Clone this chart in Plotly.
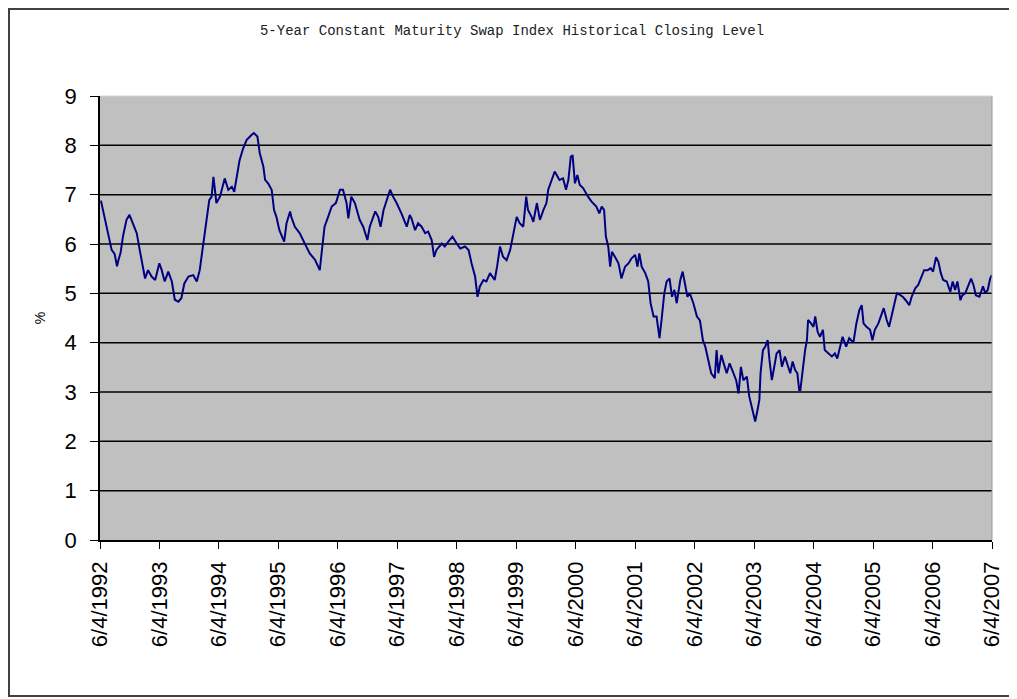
import pandas as pd
import plotly.graph_objects as go

# Decimal-year positions and closing levels (%)
years = [
    1992.44, 1992.50, 1992.56, 1992.62, 1992.67, 1992.71, 1992.74, 1992.77, 1992.81, 1992.87,
    1992.92, 1992.98, 1993.04, 1993.09, 1993.15, 1993.18, 1993.23, 1993.29, 1993.35, 1993.42,
    1993.46, 1993.51, 1993.57, 1993.63, 1993.68, 1993.74, 1993.79, 1993.84, 1993.91, 1993.99,
    1994.05, 1994.10, 1994.13, 1994.17, 1994.21, 1994.26, 1994.30, 1994.33, 1994.35, 1994.38,
    1994.44, 1994.49, 1994.52, 1994.58, 1994.64, 1994.68, 1994.72, 1994.77, 1994.83, 1994.89,
    1994.97, 1995.01, 1995.07, 1995.11, 1995.17, 1995.20, 1995.25, 1995.31, 1995.35, 1995.39,
    1995.44, 1995.48, 1995.52, 1995.56, 1995.62, 1995.64, 1995.70, 1995.78, 1995.87, 1995.95,
    1996.04, 1996.12, 1996.15, 1996.20, 1996.26, 1996.32, 1996.39, 1996.46, 1996.51, 1996.57,
    1996.60, 1996.65, 1996.71, 1996.79, 1996.85, 1996.92, 1996.96, 1997.05, 1997.10, 1997.14,
    1997.19, 1997.24, 1997.30, 1997.35, 1997.41, 1997.49, 1997.54, 1997.58, 1997.63, 1997.66,
    1997.72, 1997.77, 1997.83, 1997.89, 1997.94, 1998.00, 1998.04, 1998.08, 1998.17, 1998.22,
    1998.28, 1998.35, 1998.42, 1998.48, 1998.56, 1998.62, 1998.67, 1998.73, 1998.77, 1998.81,
    1998.87, 1998.92, 1998.98, 1999.06, 1999.10, 1999.15, 1999.20, 1999.26, 1999.32, 1999.37,
    1999.43, 1999.48, 1999.54, 1999.59, 1999.62, 1999.68, 1999.71, 1999.77, 1999.82, 1999.88,
    1999.93, 1999.96, 2000.02, 2000.07, 2000.15, 2000.21, 2000.26, 2000.30, 2000.34, 2000.37,
    2000.41, 2000.45, 2000.49, 2000.55, 2000.63, 2000.69, 2000.77, 2000.82, 2000.86, 2000.90,
    2000.93, 2000.97, 2001.00, 2001.03, 2001.08, 2001.14, 2001.19, 2001.25, 2001.31, 2001.36,
    2001.42, 2001.46, 2001.49, 2001.53, 2001.59, 2001.64, 2001.68, 2001.73, 2001.78, 2001.83,
    2001.87, 2001.91, 2001.95, 2002.00, 2002.04, 2002.08, 2002.12, 2002.18, 2002.22, 2002.26,
    2002.30, 2002.34, 2002.40, 2002.46, 2002.51, 2002.56, 2002.60, 2002.65, 2002.70, 2002.76,
    2002.79, 2002.82, 2002.87, 2002.91, 2002.96, 2003.01, 2003.07, 2003.12, 2003.16, 2003.20,
    2003.24, 2003.30, 2003.34, 2003.38, 2003.44, 2003.48, 2003.51, 2003.53, 2003.57, 2003.61,
    2003.65, 2003.68, 2003.72, 2003.76, 2003.80, 2003.85, 2003.89, 2003.94, 2003.98, 2004.03,
    2004.07, 2004.11, 2004.15, 2004.18, 2004.20, 2004.24, 2004.28, 2004.31, 2004.33, 2004.38,
    2004.42, 2004.45, 2004.49, 2004.53, 2004.58, 2004.61, 2004.67, 2004.73, 2004.78, 2004.82,
    2004.87, 2004.91, 2004.97, 2005.02, 2005.09, 2005.14, 2005.19, 2005.23, 2005.26, 2005.31,
    2005.37, 2005.41, 2005.45, 2005.51, 2005.57, 2005.60, 2005.65, 2005.69, 2005.73, 2005.77,
    2005.82, 2005.86, 2005.92, 2005.97, 2006.03, 2006.07, 2006.13, 2006.18, 2006.22, 2006.28,
    2006.34, 2006.39, 2006.43, 2006.48, 2006.52, 2006.56, 2006.60, 2006.66, 2006.72, 2006.76,
    2006.80, 2006.84, 2006.89, 2006.92, 2006.97, 2007.03, 2007.07, 2007.11, 2007.15, 2007.21,
    2007.27, 2007.31, 2007.35, 2007.39, 2007.42,
]
levels = [
    6.88, 6.55, 6.15, 5.88, 5.80, 5.55, 5.70, 5.82, 6.15, 6.49,
    6.59, 6.42, 6.22, 5.88, 5.54, 5.30, 5.47, 5.34, 5.27, 5.61,
    5.47, 5.24, 5.44, 5.24, 4.87, 4.83, 4.90, 5.20, 5.34, 5.37,
    5.24, 5.47, 5.74, 6.08, 6.42, 6.89, 6.96, 7.36, 7.16, 6.83,
    6.96, 7.16, 7.33, 7.10, 7.16, 7.06, 7.36, 7.70, 7.94, 8.11,
    8.21, 8.25, 8.18, 7.84, 7.57, 7.30, 7.23, 7.10, 6.69, 6.55,
    6.28, 6.15, 6.05, 6.42, 6.66, 6.55, 6.35, 6.22, 6.01, 5.81,
    5.68, 5.47, 5.81, 6.35, 6.55, 6.76, 6.83, 7.10, 7.10, 6.83,
    6.52, 6.96, 6.83, 6.49, 6.35, 6.08, 6.35, 6.66, 6.55, 6.35,
    6.69, 6.89, 7.10, 6.96, 6.83, 6.62, 6.49, 6.35, 6.59, 6.52,
    6.28, 6.42, 6.35, 6.22, 6.25, 6.08, 5.74, 5.88, 6.01, 5.95,
    6.05, 6.15, 6.01, 5.91, 5.95, 5.88, 5.61, 5.34, 4.93, 5.14,
    5.27, 5.24, 5.41, 5.27, 5.54, 5.95, 5.74, 5.67, 5.88, 6.22,
    6.55, 6.42, 6.35, 6.96, 6.69, 6.55, 6.45, 6.83, 6.49, 6.69,
    6.83, 7.10, 7.30, 7.47, 7.30, 7.33, 7.10, 7.30, 7.77, 7.80,
    7.23, 7.40, 7.20, 7.13, 6.96, 6.86, 6.76, 6.62, 6.76, 6.69,
    6.15, 5.95, 5.54, 5.84, 5.74, 5.61, 5.30, 5.54, 5.61, 5.71,
    5.78, 5.54, 5.81, 5.54, 5.41, 5.24, 4.80, 4.53, 4.53, 4.09,
    4.53, 5.00, 5.24, 5.30, 4.93, 5.07, 4.80, 5.27, 5.44, 5.20,
    4.93, 5.00, 4.80, 4.53, 4.45, 4.05, 3.92, 3.65, 3.38, 3.28,
    3.85, 3.38, 3.75, 3.58, 3.38, 3.58, 3.38, 3.24, 2.97, 3.51,
    3.24, 3.31, 2.91, 2.70, 2.40, 2.64, 2.84, 3.38, 3.85, 3.92,
    4.05, 3.65, 3.24, 3.51, 3.78, 3.85, 3.51, 3.72, 3.58, 3.38,
    3.62, 3.45, 3.38, 3.04, 3.04, 3.51, 3.85, 4.05, 4.46, 4.39,
    4.32, 4.53, 4.22, 4.12, 4.26, 3.85, 3.78, 3.72, 3.78, 3.68,
    3.92, 4.12, 3.92, 4.09, 4.00, 4.39, 4.66, 4.76, 4.39, 4.32,
    4.26, 4.05, 4.26, 4.39, 4.60, 4.70, 4.46, 4.32, 4.53, 4.73,
    5.00, 4.98, 4.93, 4.86, 4.76, 4.93, 5.10, 5.17, 5.30, 5.47,
    5.47, 5.51, 5.44, 5.73, 5.64, 5.41, 5.27, 5.24, 5.03, 5.24,
    5.07, 5.24, 4.86, 4.96, 5.00, 5.20, 5.30, 5.17, 4.96, 4.93,
    5.14, 5.00, 5.07, 5.30, 5.37,
]

tick_dates = [f"{y}-06-04" for y in range(1992, 2008)]
tick_labels = [f"6/4/{y}" for y in range(1992, 2008)]
y_ticks = list(range(0, 10))
grid_levels = list(range(1, 9))

title_text = "5-Year Constant Maturity Swap Index Historical Closing Level"


def to_date(dy):
    yr = int(dy)
    start = pd.Timestamp(year=yr, month=1, day=1)
    return start + pd.Timedelta(days=(dy - yr) * 365.25)


dates = [to_date(v) for v in years]

# figure is placed by the page at an 8px offset; size it to fit the window
W, H = 1009, 691
ML, MT, PW, PH = 92, 88, 892, 444
MR = W - ML - PW
MB = H - MT - PH


def px(fx):
    return (fx - ML) / PW


def py(fy):
    return (MT + PH - fy) / PH


fig = go.Figure()
fig.add_trace(go.Scatter(
    x=dates, y=levels, mode="lines",
    line=dict(color="#000080", width=2),
    showlegend=False, hoverinfo="skip",
))

shapes = []
for g in grid_levels:
    shapes.append(dict(type="line", xref="paper", yref="y", x0=0, x1=1, y0=g, y1=g,
                       line=dict(color="#000000", width=1.5), layer="below"))
shapes.append(dict(type="line", xref="paper", yref="paper", x0=1, x1=1, y0=0, y1=1,
                   line=dict(color="#9a9a9a", width=1)))
shapes.append(dict(type="line", xref="paper", yref="paper", x0=0, x1=1, y0=1, y1=1,
                   line=dict(color="#d4d4d4", width=1)))
shapes.append(dict(type="rect", xref="paper", yref="paper",
                   x0=px(1), x1=px(1007), y0=py(688), y1=py(1),
                   line=dict(color="#404040", width=2), fillcolor="rgba(0,0,0,0)"))

fig.update_layout(
    width=W, height=H,
    margin=dict(l=ML, r=MR, t=MT, b=MB),
    paper_bgcolor="white", plot_bgcolor="#C0C0C0",
    title=dict(text=title_text, x=px(504), xref="paper", y=1 - 22 / H, yref="container",
               xanchor="center", yanchor="middle",
               font=dict(family="Liberation Mono", size=14, color="#222222")),
    shapes=shapes,
    font=dict(family="Liberation Sans, Arial", color="#000000"),
)
fig.update_xaxes(
    type="date", range=[tick_dates[0], tick_dates[-1]],
    tickmode="array", tickvals=tick_dates, ticktext=tick_labels,
    tickangle=-90, tickfont=dict(size=22, family="Liberation Sans, Arial"),
    ticks="outside", ticklen=7, tickcolor="#000000", tickwidth=1.3,
    ticklabelstandoff=4,
    showline=True, linecolor="#000000", linewidth=1.5,
    showgrid=False, zeroline=False,
)
fig.update_yaxes(
    range=[0, 9], tickmode="array", tickvals=y_ticks,
    tickfont=dict(size=22, family="Liberation Sans, Arial"),
    ticks="outside", ticklen=8, tickcolor="#000000", tickwidth=1.3,
    ticklabelstandoff=9,
    showline=True, linecolor="#000000", linewidth=1.5,
    showgrid=False, zeroline=False,
    title=dict(text="%", font=dict(size=14, family="Liberation Sans, Arial"), standoff=16),
)

fig.write_html("out.html")
